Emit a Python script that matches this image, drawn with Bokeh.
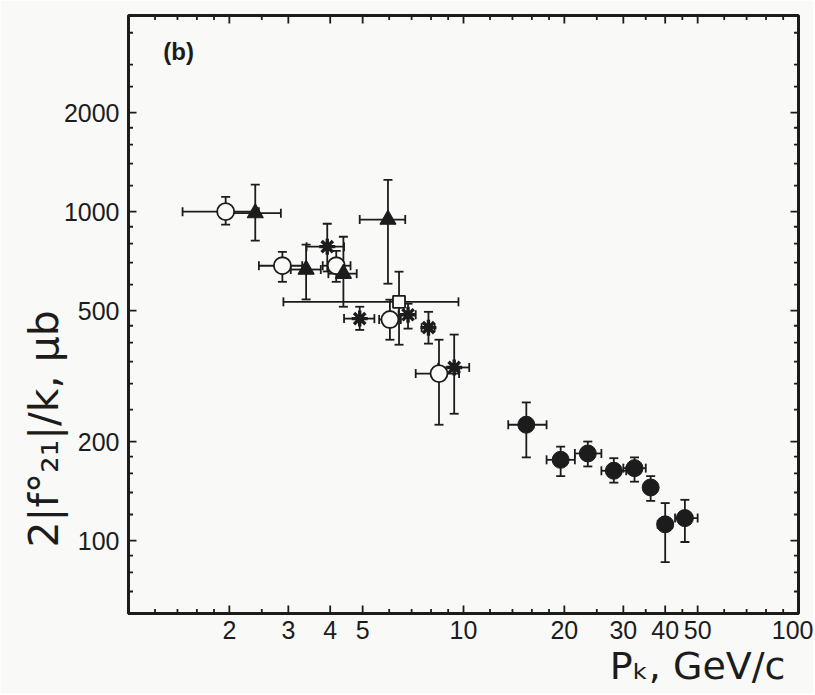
import math
from bokeh.plotting import figure
from bokeh.models import (Range1d, FixedTicker, NumeralTickFormatter, Whisker, TeeHead,
                          ColumnDataSource, Label, Title)
from bokeh.embed import file_html
from bokeh.resources import INLINE

# ---------------- data ----------------
# open circles
oc_x = [1.95, 2.88, 4.17, 6.03, 8.45]
oc_y = [1000, 685, 685, 470, 322]
oc_ylo = [913, 612, 612, 408, 225]
oc_yhi = [1110, 755, 760, 540, 408]
oc_xlo = [1.45, 2.45, 3.8, 5.6, 7.2]
oc_xhi = [2.45, 3.3, 4.6, 6.5, 9.7]

# filled triangles
tr_x = [2.39, 3.39, 4.38, 5.95]
tr_y = [990, 667, 648, 946]
tr_ylo = [817, 541, 514, 604]
tr_yhi = [1208, 794, 839, 1250]
tr_xlo = [1.95, 3.05, 3.95, 4.9]
tr_xhi = [2.85, 3.75, 4.8, 6.7]

# stars
st_x = [3.92, 4.9, 6.83, 7.86, 9.38]
st_y = [783, 473, 486, 444, 336]
st_ylo = [658, 437, 441, 397, 243]
st_yhi = [919, 514, 525, 496, 423]
st_xlo = [3.4, 4.4, 6.4, 7.5, 8.4]
st_xhi = [4.4, 5.42, 7.2, 8.2, 10.4]

# open square
sq_x = [6.42]
sq_y = [532]
sq_ylo = [394]
sq_yhi = [657]
sq_xlo = [2.9]
sq_xhi = [9.66]

# filled circles
fc_x = [15.4, 19.5, 23.5, 28.1, 32.4, 36.2, 40.0, 45.8]
fc_y = [225, 176, 184, 163, 166, 145, 112, 117]
fc_ylo = [179, 157, 168, 150, 151, 132, 86, 99]
fc_yhi = [263, 193, 200, 178, 179, 157, 130, 133]
fc_xlo = [13.6, 17.7, 21.5, 25.8, 30.0, 35.0, 38.0, 42.8]
fc_xhi = [17.7, 21.5, 25.8, 30.6, 35.0, 37.5, 42.0, 50.0]

# ticks
x_major = [2, 3, 4, 5, 10, 20, 30, 40, 50, 100]
x_minor = [1.2, 1.4, 1.6, 1.8, 2.5, 6, 7, 8, 9, 12, 14, 16, 18, 25, 35, 45, 60, 70, 80, 90]
y_major = [100, 200, 500, 1000, 2000]
y_minor = [70, 80, 90, 120, 140, 160, 180, 250, 300, 350, 400, 450, 600, 700, 800, 900,
           1200, 1400, 1600, 1800, 2400, 2800, 3500]

BG = "#f9f9f7"
INK = "#1c1c1c"
TICK_FONT = "Liberation Sans"

xr = Range1d(1, 100)
yr = Range1d(60, 3950)

p = figure(x_axis_type="log", y_axis_type="log", x_range=xr, y_range=yr,
           frame_width=670, frame_height=598,
           min_border_left=128, min_border_top=15, min_border_right=15, min_border_bottom=80,
           output_backend="svg", toolbar_location=None,
           background_fill_color=BG, border_fill_color=BG,
           outline_line_color=INK, outline_line_width=3)
p.grid.visible = False

for ax in (p.xaxis[0], p.yaxis[0]):
    ax.axis_line_color = INK
    ax.axis_line_width = 3
    ax.major_tick_in = 0
    ax.major_tick_out = 0
    ax.minor_tick_in = 0
    ax.minor_tick_out = 0
    ax.major_label_text_font = TICK_FONT
    ax.major_label_text_font_size = "25px"
    ax.major_label_text_color = INK
    ax.formatter = NumeralTickFormatter(format="0")

p.xaxis.ticker = FixedTicker(ticks=x_major, minor_ticks=x_minor)
p.yaxis.ticker = FixedTicker(ticks=y_major, minor_ticks=y_minor)
p.xaxis.major_label_standoff = 7
p.yaxis.major_label_standoff = 9

# inward tick marks on all four sides (dash markers centred on the frame edge;
# the half outside the frame is clipped away)
MAJ, MIN = 16, 9


def edge_ticks(vals, size, horizontal_edge):
    n = len(vals)
    if horizontal_edge:   # bottom and top edges: vertical dashes
        for yy in (yr.start, yr.end):
            p.scatter(vals, [yy] * n, marker="dash", angle=math.pi / 2, size=size,
                      line_color=INK, line_width=1.8)
    else:                 # left and right edges: horizontal dashes
        for xx in (xr.start, xr.end):
            p.scatter([xx] * n, vals, marker="dash", size=size, line_color=INK, line_width=1.8)


edge_ticks(x_major, MAJ, True)
edge_ticks(x_minor, MIN, True)
edge_ticks(y_major, MAJ, False)
edge_ticks(y_minor, MIN, False)

# axis titles
ylab = Title(text="2|f°₂₁|/k, μb", align="left", offset=66, text_font="DejaVu Sans",
             text_font_size="41px", text_font_style="normal", text_color=INK, standoff=0)
try:
    ylab.standoff = -14
except Exception:
    pass
p.add_layout(ylab, "left")
xlab = Title(text="Pₖ, GeV/c", align="right", offset=13, text_font="DejaVu Sans",
             text_font_size="38px", text_font_style="normal", text_color=INK, standoff=0)
p.add_layout(xlab, "below")


def series(x, y, xlo, xhi, ylo, yhi):
    src = ColumnDataSource(dict(x=x, y=y, xlo=xlo, xhi=xhi, ylo=ylo, yhi=yhi))
    for dim, base, lo, hi in (("height", "x", "ylo", "yhi"), ("width", "y", "xlo", "xhi")):
        w = Whisker(source=src, base=base, lower=lo, upper=hi, dimension=dim, level="underlay",
                    line_color=INK, line_width=1.8,
                    lower_head=TeeHead(size=9, line_color=INK, line_width=1.8),
                    upper_head=TeeHead(size=9, line_color=INK, line_width=1.8))
        p.add_layout(w)
    return src


s_oc = series(oc_x, oc_y, oc_xlo, oc_xhi, oc_ylo, oc_yhi)
s_tr = series(tr_x, tr_y, tr_xlo, tr_xhi, tr_ylo, tr_yhi)
s_st = series(st_x, st_y, st_xlo, st_xhi, st_ylo, st_yhi)
s_sq = series(sq_x, sq_y, sq_xlo, sq_xhi, sq_ylo, sq_yhi)
s_fc = series(fc_x, fc_y, fc_xlo, fc_xhi, fc_ylo, fc_yhi)

p.scatter("x", "y", source=s_oc, marker="circle", size=17, fill_color=BG, line_color=INK, line_width=1.8)
p.scatter("x", "y", source=s_tr, marker="triangle", size=16, fill_color=INK, line_color=INK, line_width=1.2)
p.scatter("x", "y", source=s_st, marker="asterisk", size=16, line_color=INK, line_width=3.4)
p.scatter("x", "y", source=s_st, marker="circle", size=7, fill_color=INK, line_color=INK)
p.scatter("x", "y", source=s_sq, marker="square", size=12, fill_color=BG, line_color=INK, line_width=1.8)
p.scatter("x", "y", source=s_fc, marker="circle", size=17, fill_color=INK, line_color=INK, line_width=1)

p.add_layout(Label(x=1.27, y=3060, text="(b)", text_font=TICK_FONT, text_font_size="24px",
                   text_font_style="bold", text_baseline="middle", text_color=INK))

open("out.html", "w").write(file_html(p, INLINE))
